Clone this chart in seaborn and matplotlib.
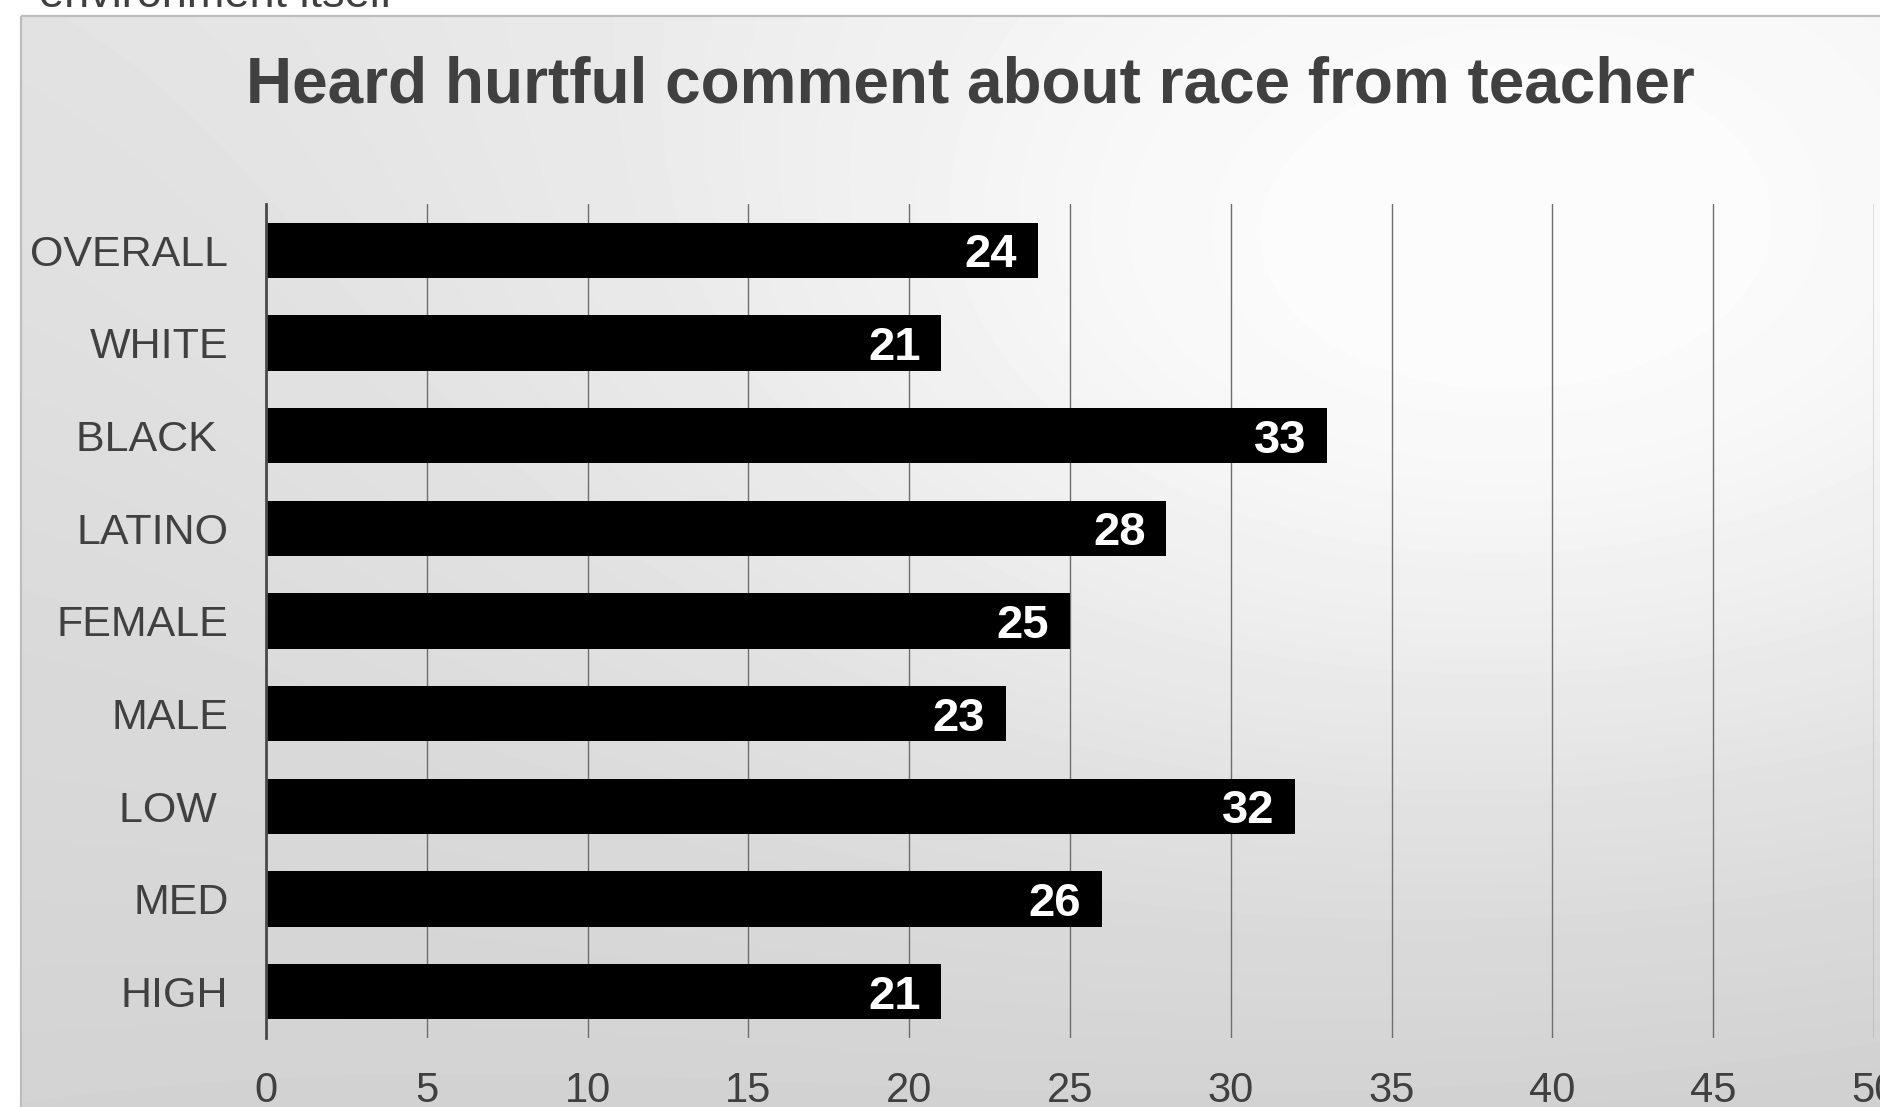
import matplotlib

matplotlib.use("Agg")

import matplotlib.pyplot as plt
import numpy as np
import pandas as pd
import seaborn as sns
from matplotlib.patches import Rectangle

groups = ["OVERALL", "WHITE", "BLACK ", "LATINO", "FEMALE", "MALE", "LOW ", "MED", "HIGH"]
percent = [24, 21, 33, 28, 25, 23, 32, 26, 21]
x_ticks = [0, 5, 10, 15, 20, 25, 30, 35, 40, 45, 50]

W, H = 1881, 1107
TEXT = "#404040"

sns.set_theme(style="white")
plt.rcParams["font.family"] = ["Liberation Sans", "DejaVu Sans"]

fig = plt.figure(figsize=(W / 100, H / 100), dpi=100)
fig.patch.set_facecolor("white")

# slide panel background: soft gradient, lightest right of the middle
px, py = np.meshgrid(np.arange(W), np.arange(H))
u, v = px / W, py / H
base = (226 * (1 - u) * (1 - v) + 230 * u * (1 - v) + 211 * (1 - u) * v + 206 * u * v)
glow = 30 * np.exp(-(((px - 1500) / 850) ** 2 + ((py - 330) / 520) ** 2))
shade = np.clip(base + glow, 0, 252) / 255.0
panel = np.ones((H, W))
px0, py0 = 21, 16
panel[py0:, px0:] = shade[py0:, px0:]

bg = fig.add_axes([0, 0, 1, 1], zorder=-2)
bg.imshow(panel, cmap="gray", vmin=0, vmax=1, extent=(0, W, H, 0), aspect="auto", interpolation="bilinear")
bg.add_patch(Rectangle((px0, py0), W, H, fill=False, edgecolor="#bdbdbd", lw=1.6))
bg.set_xlim(0, W)
bg.set_ylim(H, 0)
bg.axis("off")

# cut-off line of slide text above the panel
fig.text(39 / W, 1 - 7 / H, "environment itself", fontsize=32.5, color=TEXT, ha="left", va="baseline")

fig.text(970 / W, 1 - 102 / H, "Heard hurtful comment about race from teacher",
         fontsize=46, fontweight="bold", color=TEXT, ha="center", va="baseline")

ax = fig.add_axes([266 / W, 1 - 1038 / H, 1608 / W, 834 / H])
ax.patch.set_alpha(0)

df = pd.DataFrame({"group": groups, "percent": percent})
sns.barplot(data=df, x="percent", y="group", orient="h", color="black", saturation=1,
            width=0.6, linewidth=0, ax=ax)

ax.set_xlim(0, 50)
ax.set_xticks(x_ticks)
ax.xaxis.grid(True, color="#6e6e6e", lw=1.0)
ax.yaxis.grid(False)
ax.set_axisbelow(True)
ax.set_xlabel("")
ax.set_ylabel("")
ax.tick_params(axis="x", length=0, pad=24, labelsize=30, labelcolor=TEXT)
ax.tick_params(axis="y", length=0, pad=27, labelsize=31, labelcolor=TEXT)

for side in ["top", "right", "bottom"]:
    ax.spines[side].set_visible(False)
ax.spines["left"].set_color("#4a4a4a")
ax.spines["left"].set_linewidth(2)

for i, val in enumerate(percent):
    ax.annotate(str(val), (val, i), xytext=(-15, 0), textcoords="offset points",
                ha="right", va="center_baseline", color="white", fontsize=34, fontweight="bold")

fig.savefig("out.png", dpi=100)
